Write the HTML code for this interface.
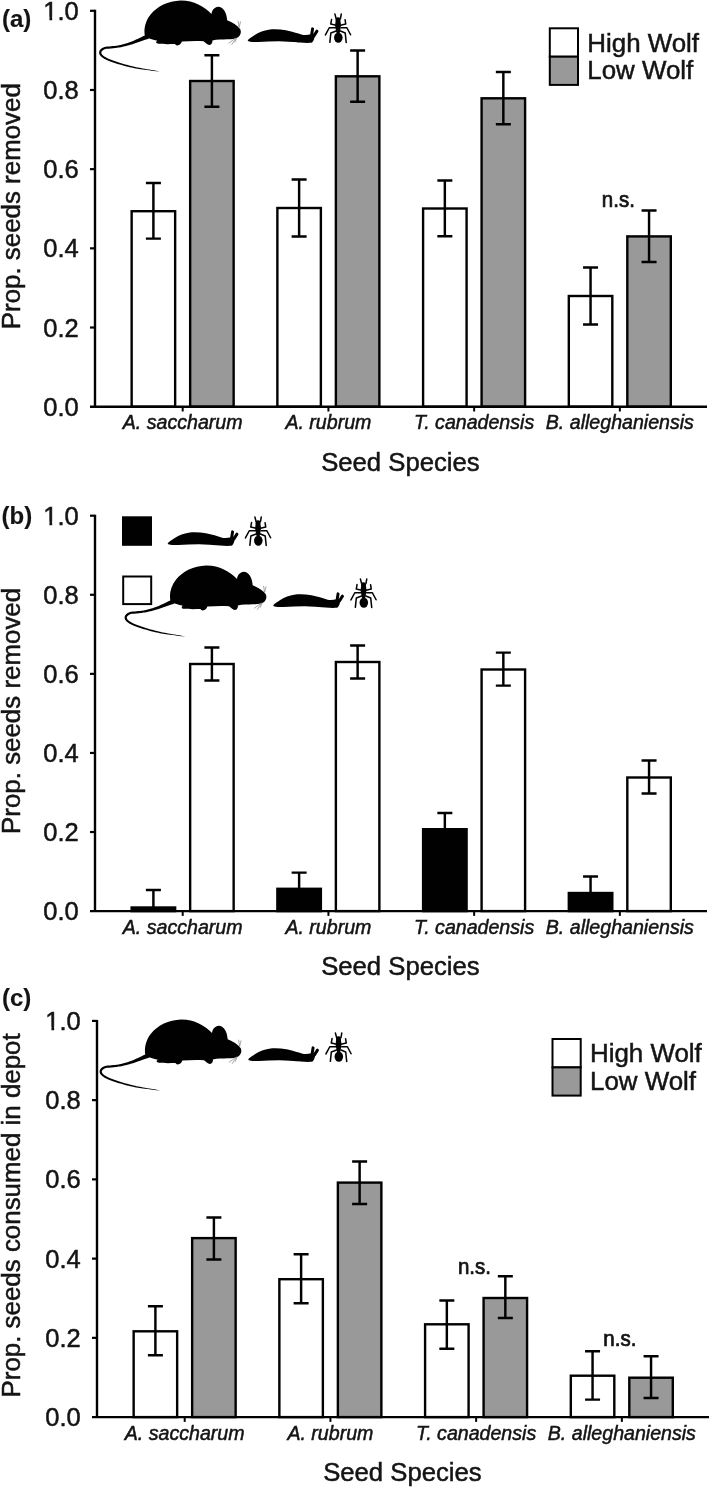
<!DOCTYPE html>
<html><head><meta charset="utf-8"><title>Figure</title>
<style>
html,body{margin:0;padding:0;background:#fff;}
body{width:709px;height:1487px;overflow:hidden;font-family:"Liberation Sans", sans-serif;}
svg{display:block;}
text{font-family:"Liberation Sans", sans-serif;fill:#141414;stroke:#141414;stroke-width:0.5px;}
</style></head><body>
<svg width="709" height="1487" viewBox="0 0 709 1487">
<defs>
<g id="mouse" transform="translate(96,0) scale(0.21157)">
<path d="M232,172 C224,140 232,100 258,68 C290,30 340,4 400,2 C460,1 512,30 546,66 C548,48 560,34 578,32 C600,32 618,58 620,96 C645,106 668,120 682,138 C688,152 684,166 672,176 C658,184 640,186 620,186 C598,187 572,187 550,191 C552,200 546,212 536,213 C526,212 516,200 508,195 C480,192 440,194 406,196 C402,206 396,214 384,215 C376,214 376,209 372,208 C345,209 315,209 296,207 C284,206 280,200 290,193 C270,188 248,182 232,172 Z" fill="#000"/>
<path d="M241.8,161.8 L238.3,163.6 L233.6,165.9 L228.0,168.7 L221.8,171.8 L215.4,175.0 L208.9,178.2 L202.7,181.1 L197.1,183.8 L192.0,186.1 L187.1,188.3 L182.4,190.4 L177.8,192.5 L173.1,194.4 L168.4,196.3 L163.4,198.2 L158.1,200.1 L152.4,202.0 L146.4,203.9 L140.0,205.8 L133.6,207.7 L127.1,209.5 L120.8,211.1 L114.7,212.6 L109.0,213.9 L103.6,214.9 L98.3,215.8 L93.1,216.5 L88.1,217.0 L83.2,217.5 L78.4,217.9 L73.8,218.4 L69.5,218.8 L65.4,219.2 L61.5,219.5 L57.8,219.8 L54.2,220.0 L50.7,220.3 L47.2,220.7 L43.9,221.2 L40.6,222.0 L37.5,223.0 L34.6,224.2 L31.9,225.5 L29.3,226.9 L27.0,228.5 L24.9,230.1 L23.0,231.7 L21.2,233.4 L19.6,235.2 L18.2,237.2 L17.0,239.2 L16.1,241.4 L15.3,243.6 L14.9,245.9 L14.7,248.2 L14.8,250.6 L15.2,252.8 L15.9,255.0 L16.8,257.2 L17.9,259.4 L19.3,261.5 L20.9,263.5 L22.7,265.5 L24.7,267.5 L26.7,269.3 L28.9,271.1 L31.2,272.8 L33.8,274.6 L36.7,276.4 L40.0,278.3 L43.8,280.2 L48.1,282.2 L53.0,284.3 L58.6,286.6 L64.6,289.0 L71.1,291.4 L77.8,293.9 L84.7,296.3 L91.7,298.7 L98.7,301.0 L105.8,303.2 L113.1,305.4 L120.6,307.6 L128.3,309.7 L136.0,311.8 L143.8,313.8 L151.5,315.7 L159.2,317.5 L166.6,319.2 L173.8,320.7 L181.0,322.1 L188.3,323.5 L195.6,324.8 L203.2,326.1 L211.2,327.3 L219.6,328.6 L229.1,329.9 L239.8,331.2 L251.1,332.6 L262.5,333.9 L273.5,335.1 L283.4,336.2 L291.7,337.1 L297.9,337.8 L298.1,336.2 L292.0,335.2 L283.7,333.9 L273.9,332.4 L263.0,330.6 L251.6,328.8 L240.4,326.9 L229.8,325.1 L220.4,323.4 L212.1,321.9 L204.3,320.3 L196.7,318.8 L189.5,317.3 L182.4,315.7 L175.3,314.1 L168.2,312.3 L160.8,310.5 L153.3,308.5 L145.7,306.5 L138.1,304.4 L130.4,302.1 L122.9,299.9 L115.5,297.6 L108.3,295.3 L101.3,293.0 L94.5,290.7 L87.6,288.2 L80.8,285.7 L74.2,283.2 L67.9,280.7 L62.0,278.3 L56.6,276.0 L51.9,273.8 L47.9,271.9 L44.4,270.0 L41.5,268.4 L39.0,266.8 L36.8,265.2 L34.8,263.7 L33.0,262.1 L31.3,260.5 L29.8,258.9 L28.5,257.4 L27.5,255.9 L26.7,254.5 L26.1,253.1 L25.6,251.8 L25.3,250.6 L25.2,249.4 L25.1,248.4 L25.2,247.3 L25.5,246.2 L25.8,245.1 L26.3,244.0 L27.0,242.9 L27.8,241.7 L28.8,240.6 L30.0,239.4 L31.4,238.2 L33.0,237.0 L34.8,235.8 L36.7,234.7 L38.8,233.7 L41.1,232.8 L43.4,232.0 L45.9,231.4 L48.6,231.0 L51.6,230.6 L54.9,230.4 L58.5,230.2 L62.3,229.9 L66.3,229.6 L70.5,229.2 L74.9,228.7 L79.4,228.2 L84.2,227.8 L89.2,227.2 L94.4,226.6 L99.7,225.9 L105.3,225.1 L111.0,224.1 L117.0,222.9 L123.3,221.6 L129.8,220.1 L136.4,218.5 L143.1,216.9 L149.6,215.2 L155.9,213.6 L161.9,211.9 L167.4,210.3 L172.7,208.6 L177.8,207.0 L182.7,205.3 L187.6,203.6 L192.5,201.8 L197.6,200.1 L202.9,198.2 L208.8,196.2 L215.4,194.0 L222.3,191.7 L229.2,189.3 L235.7,187.1 L241.6,185.1 L246.5,183.4 L250.2,182.2 Z" fill="#000"/>
<path d="M676,128 L672,100 M677,128 L683,103 M660,180 L628,204 M661,181 L642,210 M664,182 L656,200" stroke="#8a8a8a" stroke-width="3.6" fill="none" stroke-linecap="round"/>
</g>

<g id="slug" transform="translate(242,15) scale(0.11566)">
<path d="M50,218 C60,205 85,188 110,172 C150,148 190,134 230,127 C280,122 330,124 380,132 C430,142 480,158 520,170 C545,174 570,172 596,166 L628,176 C628,200 622,224 606,238 C590,243 540,241 500,238 C440,232 380,228 320,226 C260,226 200,230 140,233 C110,234 80,233 62,229 C52,226 48,222 50,218 Z" fill="#000"/>
<path d="M602,172 L610,120 M622,180 L648,140" stroke="#000" stroke-width="26" stroke-linecap="round" fill="none"/>
</g>

<g id="ant" transform="translate(318,8) scale(0.05642)">
<g fill="none" stroke="#000" stroke-width="27" stroke-linecap="round" stroke-linejoin="round">
<path d="M322,190 L300,108"/><path d="M398,190 L412,108"/>
<path d="M320,305 L226,285 L240,205"/><path d="M400,305 L492,285 L480,208"/>
<path d="M310,352 L200,350 L132,478"/><path d="M410,352 L512,350 L578,474"/>
<path d="M322,408 L228,442 L210,608"/><path d="M398,408 L482,442 L500,612"/>
</g>
<path d="M355,165 C395,165 405,200 398,240 C410,280 408,330 398,370 C396,400 390,425 384,445 L330,445 C322,425 316,400 314,370 C302,330 302,280 312,240 C305,200 318,165 355,165 Z" fill="#000"/>
<ellipse cx="360" cy="525" rx="76" ry="92" fill="#000"/>
</g>
</defs>
<rect x="0" y="0" width="709" height="1487" fill="#fff"/>
<g opacity="0.999">

<rect x="131.65" y="211.20" width="43.5" height="195.50" fill="#fff" stroke="#000" stroke-width="2.4"/>
<path d="M153.40,182.90 V238.60 M145.90,182.90 H160.90 M145.90,238.60 H160.90" stroke="#000" stroke-width="2.45" fill="none"/>
<rect x="190.15" y="81.00" width="43.5" height="325.70" fill="#999999" stroke="#000" stroke-width="2.4"/>
<path d="M211.90,55.25 V106.75 M204.40,55.25 H219.40 M204.40,106.75 H219.40" stroke="#000" stroke-width="2.45" fill="none"/>
<rect x="277.37" y="208.00" width="43.5" height="198.70" fill="#fff" stroke="#000" stroke-width="2.4"/>
<path d="M299.12,179.50 V236.50 M291.62,179.50 H306.62 M291.62,236.50 H306.62" stroke="#000" stroke-width="2.45" fill="none"/>
<rect x="335.87" y="76.30" width="43.5" height="330.40" fill="#999999" stroke="#000" stroke-width="2.4"/>
<path d="M357.62,50.50 V101.75 M350.12,50.50 H365.12 M350.12,101.75 H365.12" stroke="#000" stroke-width="2.45" fill="none"/>
<rect x="423.09" y="208.50" width="43.5" height="198.20" fill="#fff" stroke="#000" stroke-width="2.4"/>
<path d="M444.84,180.50 V236.25 M437.34,180.50 H452.34 M437.34,236.25 H452.34" stroke="#000" stroke-width="2.45" fill="none"/>
<rect x="481.59" y="98.30" width="43.5" height="308.40" fill="#999999" stroke="#000" stroke-width="2.4"/>
<path d="M503.34,72.00 V124.25 M495.84,72.00 H510.84 M495.84,124.25 H510.84" stroke="#000" stroke-width="2.45" fill="none"/>
<rect x="568.81" y="296.00" width="43.5" height="110.70" fill="#fff" stroke="#000" stroke-width="2.4"/>
<path d="M590.56,267.50 V324.50 M583.06,267.50 H598.06 M583.06,324.50 H598.06" stroke="#000" stroke-width="2.45" fill="none"/>
<rect x="627.31" y="236.40" width="43.5" height="170.30" fill="#999999" stroke="#000" stroke-width="2.4"/>
<path d="M649.06,210.50 V262.00 M641.56,210.50 H656.56 M641.56,262.00 H656.56" stroke="#000" stroke-width="2.45" fill="none"/>
<path d="M95.00,9.80 V406.70" stroke="#000" stroke-width="2.4" fill="none"/>
<path d="M90.00,406.70 H707.00" stroke="#000" stroke-width="2.4" fill="none"/>
<text x="78.70" y="415.70" font-size="25.5" text-anchor="end">0.0</text>
<path d="M90.00,327.52 H95.00" stroke="#000" stroke-width="2.2" fill="none"/>
<text x="78.70" y="336.52" font-size="25.5" text-anchor="end">0.2</text>
<path d="M90.00,248.34 H95.00" stroke="#000" stroke-width="2.2" fill="none"/>
<text x="78.70" y="257.34" font-size="25.5" text-anchor="end">0.4</text>
<path d="M90.00,169.16 H95.00" stroke="#000" stroke-width="2.2" fill="none"/>
<text x="78.70" y="178.16" font-size="25.5" text-anchor="end">0.6</text>
<path d="M90.00,89.98 H95.00" stroke="#000" stroke-width="2.2" fill="none"/>
<text x="78.70" y="98.98" font-size="25.5" text-anchor="end">0.8</text>
<path d="M90.00,10.80 H95.00" stroke="#000" stroke-width="2.2" fill="none"/>
<text x="78.70" y="19.80" font-size="25.5" text-anchor="end">1.0</text>
<rect x="43.86" y="16.80" width="5.56" height="4.6" fill="#fff"/>
<rect x="52.18" y="16.80" width="4.90" height="4.6" fill="#fff"/>
<path d="M182.70,406.70 V411.50" stroke="#000" stroke-width="2" fill="none"/>
<text x="182.70" y="429.30" font-size="19.6" font-style="italic" text-anchor="middle">A. saccharum</text>
<path d="M328.42,406.70 V411.50" stroke="#000" stroke-width="2" fill="none"/>
<text x="328.42" y="429.30" font-size="19.6" font-style="italic" text-anchor="middle">A. rubrum</text>
<path d="M474.14,406.70 V411.50" stroke="#000" stroke-width="2" fill="none"/>
<text x="474.14" y="429.30" font-size="19.6" font-style="italic" text-anchor="middle">T. canadensis</text>
<path d="M619.86,406.70 V411.50" stroke="#000" stroke-width="2" fill="none"/>
<text x="619.86" y="429.30" font-size="19.6" font-style="italic" text-anchor="middle">B. alleghaniensis</text>
<text x="400.40" y="470.90" font-size="25.7" text-anchor="middle">Seed Species</text>
<text transform="translate(19.7,206.20) rotate(-90)" font-size="25.9" text-anchor="middle">Prop. seeds removed</text>
<text x="2.0" y="27.2" font-size="24" font-weight="bold" fill="#000" style="stroke-width:0.15px">(a)</text>
<text transform="translate(618.4,206.6) scale(0.955,1)" font-size="21.5" text-anchor="middle" style="stroke-width:0.75px">n.s.</text>
<rect x="549.80" y="28.30" width="28.2" height="28.4" fill="#fff" stroke="#000" stroke-width="2"/>
<rect x="549.80" y="56.70" width="28.2" height="28.2" fill="#999999" stroke="#000" stroke-width="2"/>
<text x="587.30" y="51.50" font-size="25.9">High Wolf</text>
<text x="587.30" y="79.00" font-size="25.9">Low Wolf</text>
<use href="#mouse"/><use href="#slug"/><use href="#ant"/>
<rect x="131.65" y="907.50" width="43.5" height="3.60" fill="#000" stroke="#000" stroke-width="2.4"/>
<path d="M153.40,890.00 V907.50 M145.90,890.00 H160.90" stroke="#000" stroke-width="2.45" fill="none"/>
<rect x="190.15" y="664.00" width="43.5" height="247.10" fill="#fff" stroke="#000" stroke-width="2.4"/>
<path d="M211.90,647.50 V680.50 M204.40,647.50 H219.40 M204.40,680.50 H219.40" stroke="#000" stroke-width="2.45" fill="none"/>
<rect x="277.37" y="888.80" width="43.5" height="22.30" fill="#000" stroke="#000" stroke-width="2.4"/>
<path d="M299.12,872.60 V888.80 M291.62,872.60 H306.62" stroke="#000" stroke-width="2.45" fill="none"/>
<rect x="335.87" y="662.00" width="43.5" height="249.10" fill="#fff" stroke="#000" stroke-width="2.4"/>
<path d="M357.62,645.40 V678.40 M350.12,645.40 H365.12 M350.12,678.40 H365.12" stroke="#000" stroke-width="2.45" fill="none"/>
<rect x="423.09" y="829.20" width="43.5" height="81.90" fill="#000" stroke="#000" stroke-width="2.4"/>
<path d="M444.84,813.00 V829.20 M437.34,813.00 H452.34" stroke="#000" stroke-width="2.45" fill="none"/>
<rect x="481.59" y="669.50" width="43.5" height="241.60" fill="#fff" stroke="#000" stroke-width="2.4"/>
<path d="M503.34,652.60 V685.60 M495.84,652.60 H510.84 M495.84,685.60 H510.84" stroke="#000" stroke-width="2.45" fill="none"/>
<rect x="568.81" y="893.00" width="43.5" height="18.10" fill="#000" stroke="#000" stroke-width="2.4"/>
<path d="M590.56,876.40 V893.00 M583.06,876.40 H598.06" stroke="#000" stroke-width="2.45" fill="none"/>
<rect x="627.31" y="777.50" width="43.5" height="133.60" fill="#fff" stroke="#000" stroke-width="2.4"/>
<path d="M649.06,760.50 V793.50 M641.56,760.50 H656.56 M641.56,793.50 H656.56" stroke="#000" stroke-width="2.45" fill="none"/>
<path d="M95.00,514.70 V911.10" stroke="#000" stroke-width="2.4" fill="none"/>
<path d="M90.00,911.10 H707.00" stroke="#000" stroke-width="2.4" fill="none"/>
<text x="78.70" y="920.10" font-size="25.5" text-anchor="end">0.0</text>
<path d="M90.00,832.02 H95.00" stroke="#000" stroke-width="2.2" fill="none"/>
<text x="78.70" y="841.02" font-size="25.5" text-anchor="end">0.2</text>
<path d="M90.00,752.94 H95.00" stroke="#000" stroke-width="2.2" fill="none"/>
<text x="78.70" y="761.94" font-size="25.5" text-anchor="end">0.4</text>
<path d="M90.00,673.86 H95.00" stroke="#000" stroke-width="2.2" fill="none"/>
<text x="78.70" y="682.86" font-size="25.5" text-anchor="end">0.6</text>
<path d="M90.00,594.78 H95.00" stroke="#000" stroke-width="2.2" fill="none"/>
<text x="78.70" y="603.78" font-size="25.5" text-anchor="end">0.8</text>
<path d="M90.00,515.70 H95.00" stroke="#000" stroke-width="2.2" fill="none"/>
<text x="78.70" y="524.70" font-size="25.5" text-anchor="end">1.0</text>
<rect x="43.86" y="521.70" width="5.56" height="4.6" fill="#fff"/>
<rect x="52.18" y="521.70" width="4.90" height="4.6" fill="#fff"/>
<path d="M182.70,911.10 V915.90" stroke="#000" stroke-width="2" fill="none"/>
<text x="182.70" y="933.70" font-size="19.6" font-style="italic" text-anchor="middle">A. saccharum</text>
<path d="M328.42,911.10 V915.90" stroke="#000" stroke-width="2" fill="none"/>
<text x="328.42" y="933.70" font-size="19.6" font-style="italic" text-anchor="middle">A. rubrum</text>
<path d="M474.14,911.10 V915.90" stroke="#000" stroke-width="2" fill="none"/>
<text x="474.14" y="933.70" font-size="19.6" font-style="italic" text-anchor="middle">T. canadensis</text>
<path d="M619.86,911.10 V915.90" stroke="#000" stroke-width="2" fill="none"/>
<text x="619.86" y="933.70" font-size="19.6" font-style="italic" text-anchor="middle">B. alleghaniensis</text>
<text x="400.40" y="975.30" font-size="25.7" text-anchor="middle">Seed Species</text>
<text transform="translate(19.7,710.90) rotate(-90)" font-size="25.9" text-anchor="middle">Prop. seeds removed</text>
<text x="1.6" y="523.6" font-size="24" font-weight="bold" fill="#000" style="stroke-width:0.15px">(b)</text>
<rect x="122" y="516.3" width="30" height="29.5" fill="#000"/>
<rect x="123.2" y="576.5" width="28" height="27.6" fill="#fff" stroke="#000" stroke-width="2"/>
<use href="#slug" x="-80" y="503"/><use href="#ant" x="-80" y="503"/>
<use href="#mouse" x="25.5" y="565"/><use href="#slug" x="25.5" y="565"/><use href="#ant" x="25.5" y="565"/>
<rect x="133.65" y="1331.30" width="43.5" height="85.80" fill="#fff" stroke="#000" stroke-width="2.4"/>
<path d="M155.40,1306.20 V1355.20 M147.90,1306.20 H162.90 M147.90,1355.20 H162.90" stroke="#000" stroke-width="2.45" fill="none"/>
<rect x="192.15" y="1238.10" width="43.5" height="179.00" fill="#999999" stroke="#000" stroke-width="2.4"/>
<path d="M213.90,1217.50 V1259.40 M206.40,1217.50 H221.40 M206.40,1259.40 H221.40" stroke="#000" stroke-width="2.45" fill="none"/>
<rect x="279.37" y="1279.20" width="43.5" height="137.90" fill="#fff" stroke="#000" stroke-width="2.4"/>
<path d="M301.12,1254.20 V1303.20 M293.62,1254.20 H308.62 M293.62,1303.20 H308.62" stroke="#000" stroke-width="2.45" fill="none"/>
<rect x="337.87" y="1182.60" width="43.5" height="234.50" fill="#999999" stroke="#000" stroke-width="2.4"/>
<path d="M359.62,1161.50 V1203.90 M352.12,1161.50 H367.12 M352.12,1203.90 H367.12" stroke="#000" stroke-width="2.45" fill="none"/>
<rect x="425.09" y="1324.30" width="43.5" height="92.80" fill="#fff" stroke="#000" stroke-width="2.4"/>
<path d="M446.84,1300.50 V1348.75 M439.34,1300.50 H454.34 M439.34,1348.75 H454.34" stroke="#000" stroke-width="2.45" fill="none"/>
<rect x="483.59" y="1298.00" width="43.5" height="119.10" fill="#999999" stroke="#000" stroke-width="2.4"/>
<path d="M505.34,1276.25 V1318.00 M497.84,1276.25 H512.84 M497.84,1318.00 H512.84" stroke="#000" stroke-width="2.45" fill="none"/>
<rect x="570.81" y="1375.70" width="43.5" height="41.40" fill="#fff" stroke="#000" stroke-width="2.4"/>
<path d="M592.56,1351.30 V1399.60 M585.06,1351.30 H600.06 M585.06,1399.60 H600.06" stroke="#000" stroke-width="2.45" fill="none"/>
<rect x="629.31" y="1377.70" width="43.5" height="39.40" fill="#999999" stroke="#000" stroke-width="2.4"/>
<path d="M651.06,1356.30 V1398.00 M643.56,1356.30 H658.56 M643.56,1398.00 H658.56" stroke="#000" stroke-width="2.45" fill="none"/>
<path d="M97.00,1019.90 V1417.10" stroke="#000" stroke-width="2.4" fill="none"/>
<path d="M92.00,1417.10 H709.00" stroke="#000" stroke-width="2.4" fill="none"/>
<text x="80.70" y="1426.10" font-size="25.5" text-anchor="end">0.0</text>
<path d="M92.00,1337.86 H97.00" stroke="#000" stroke-width="2.2" fill="none"/>
<text x="80.70" y="1346.86" font-size="25.5" text-anchor="end">0.2</text>
<path d="M92.00,1258.62 H97.00" stroke="#000" stroke-width="2.2" fill="none"/>
<text x="80.70" y="1267.62" font-size="25.5" text-anchor="end">0.4</text>
<path d="M92.00,1179.38 H97.00" stroke="#000" stroke-width="2.2" fill="none"/>
<text x="80.70" y="1188.38" font-size="25.5" text-anchor="end">0.6</text>
<path d="M92.00,1100.14 H97.00" stroke="#000" stroke-width="2.2" fill="none"/>
<text x="80.70" y="1109.14" font-size="25.5" text-anchor="end">0.8</text>
<path d="M92.00,1020.90 H97.00" stroke="#000" stroke-width="2.2" fill="none"/>
<text x="80.70" y="1029.90" font-size="25.5" text-anchor="end">1.0</text>
<rect x="45.86" y="1026.90" width="5.56" height="4.6" fill="#fff"/>
<rect x="54.18" y="1026.90" width="4.90" height="4.6" fill="#fff"/>
<path d="M184.70,1417.10 V1421.90" stroke="#000" stroke-width="2" fill="none"/>
<text x="184.70" y="1439.70" font-size="19.6" font-style="italic" text-anchor="middle">A. saccharum</text>
<path d="M330.42,1417.10 V1421.90" stroke="#000" stroke-width="2" fill="none"/>
<text x="330.42" y="1439.70" font-size="19.6" font-style="italic" text-anchor="middle">A. rubrum</text>
<path d="M476.14,1417.10 V1421.90" stroke="#000" stroke-width="2" fill="none"/>
<text x="476.14" y="1439.70" font-size="19.6" font-style="italic" text-anchor="middle">T. canadensis</text>
<path d="M621.86,1417.10 V1421.90" stroke="#000" stroke-width="2" fill="none"/>
<text x="621.86" y="1439.70" font-size="19.6" font-style="italic" text-anchor="middle">B. alleghaniensis</text>
<text x="402.40" y="1481.30" font-size="25.7" text-anchor="middle">Seed Species</text>
<text transform="translate(19.7,1215.40) rotate(-90)" font-size="25.9" text-anchor="middle">Prop. seeds consumed in depot</text>
<text x="2.0" y="1005.5" font-size="24" font-weight="bold" fill="#000" style="stroke-width:0.15px">(c)</text>
<text transform="translate(474.5,1273.75) scale(0.955,1)" font-size="21.5" text-anchor="middle" style="stroke-width:0.75px">n.s.</text>
<text transform="translate(619.8,1346) scale(0.955,1)" font-size="21.5" text-anchor="middle" style="stroke-width:0.75px">n.s.</text>
<rect x="552.50" y="1039.00" width="28.2" height="28.4" fill="#fff" stroke="#000" stroke-width="2"/>
<rect x="552.50" y="1067.40" width="28.2" height="28.2" fill="#999999" stroke="#000" stroke-width="2"/>
<text x="590.00" y="1062.20" font-size="25.9">High Wolf</text>
<text x="590.00" y="1089.70" font-size="25.9">Low Wolf</text>
<use href="#mouse" x="0.5" y="1019"/><use href="#slug" x="0.5" y="1019"/><use href="#ant" x="0.5" y="1019"/>
</g></svg></body></html>
